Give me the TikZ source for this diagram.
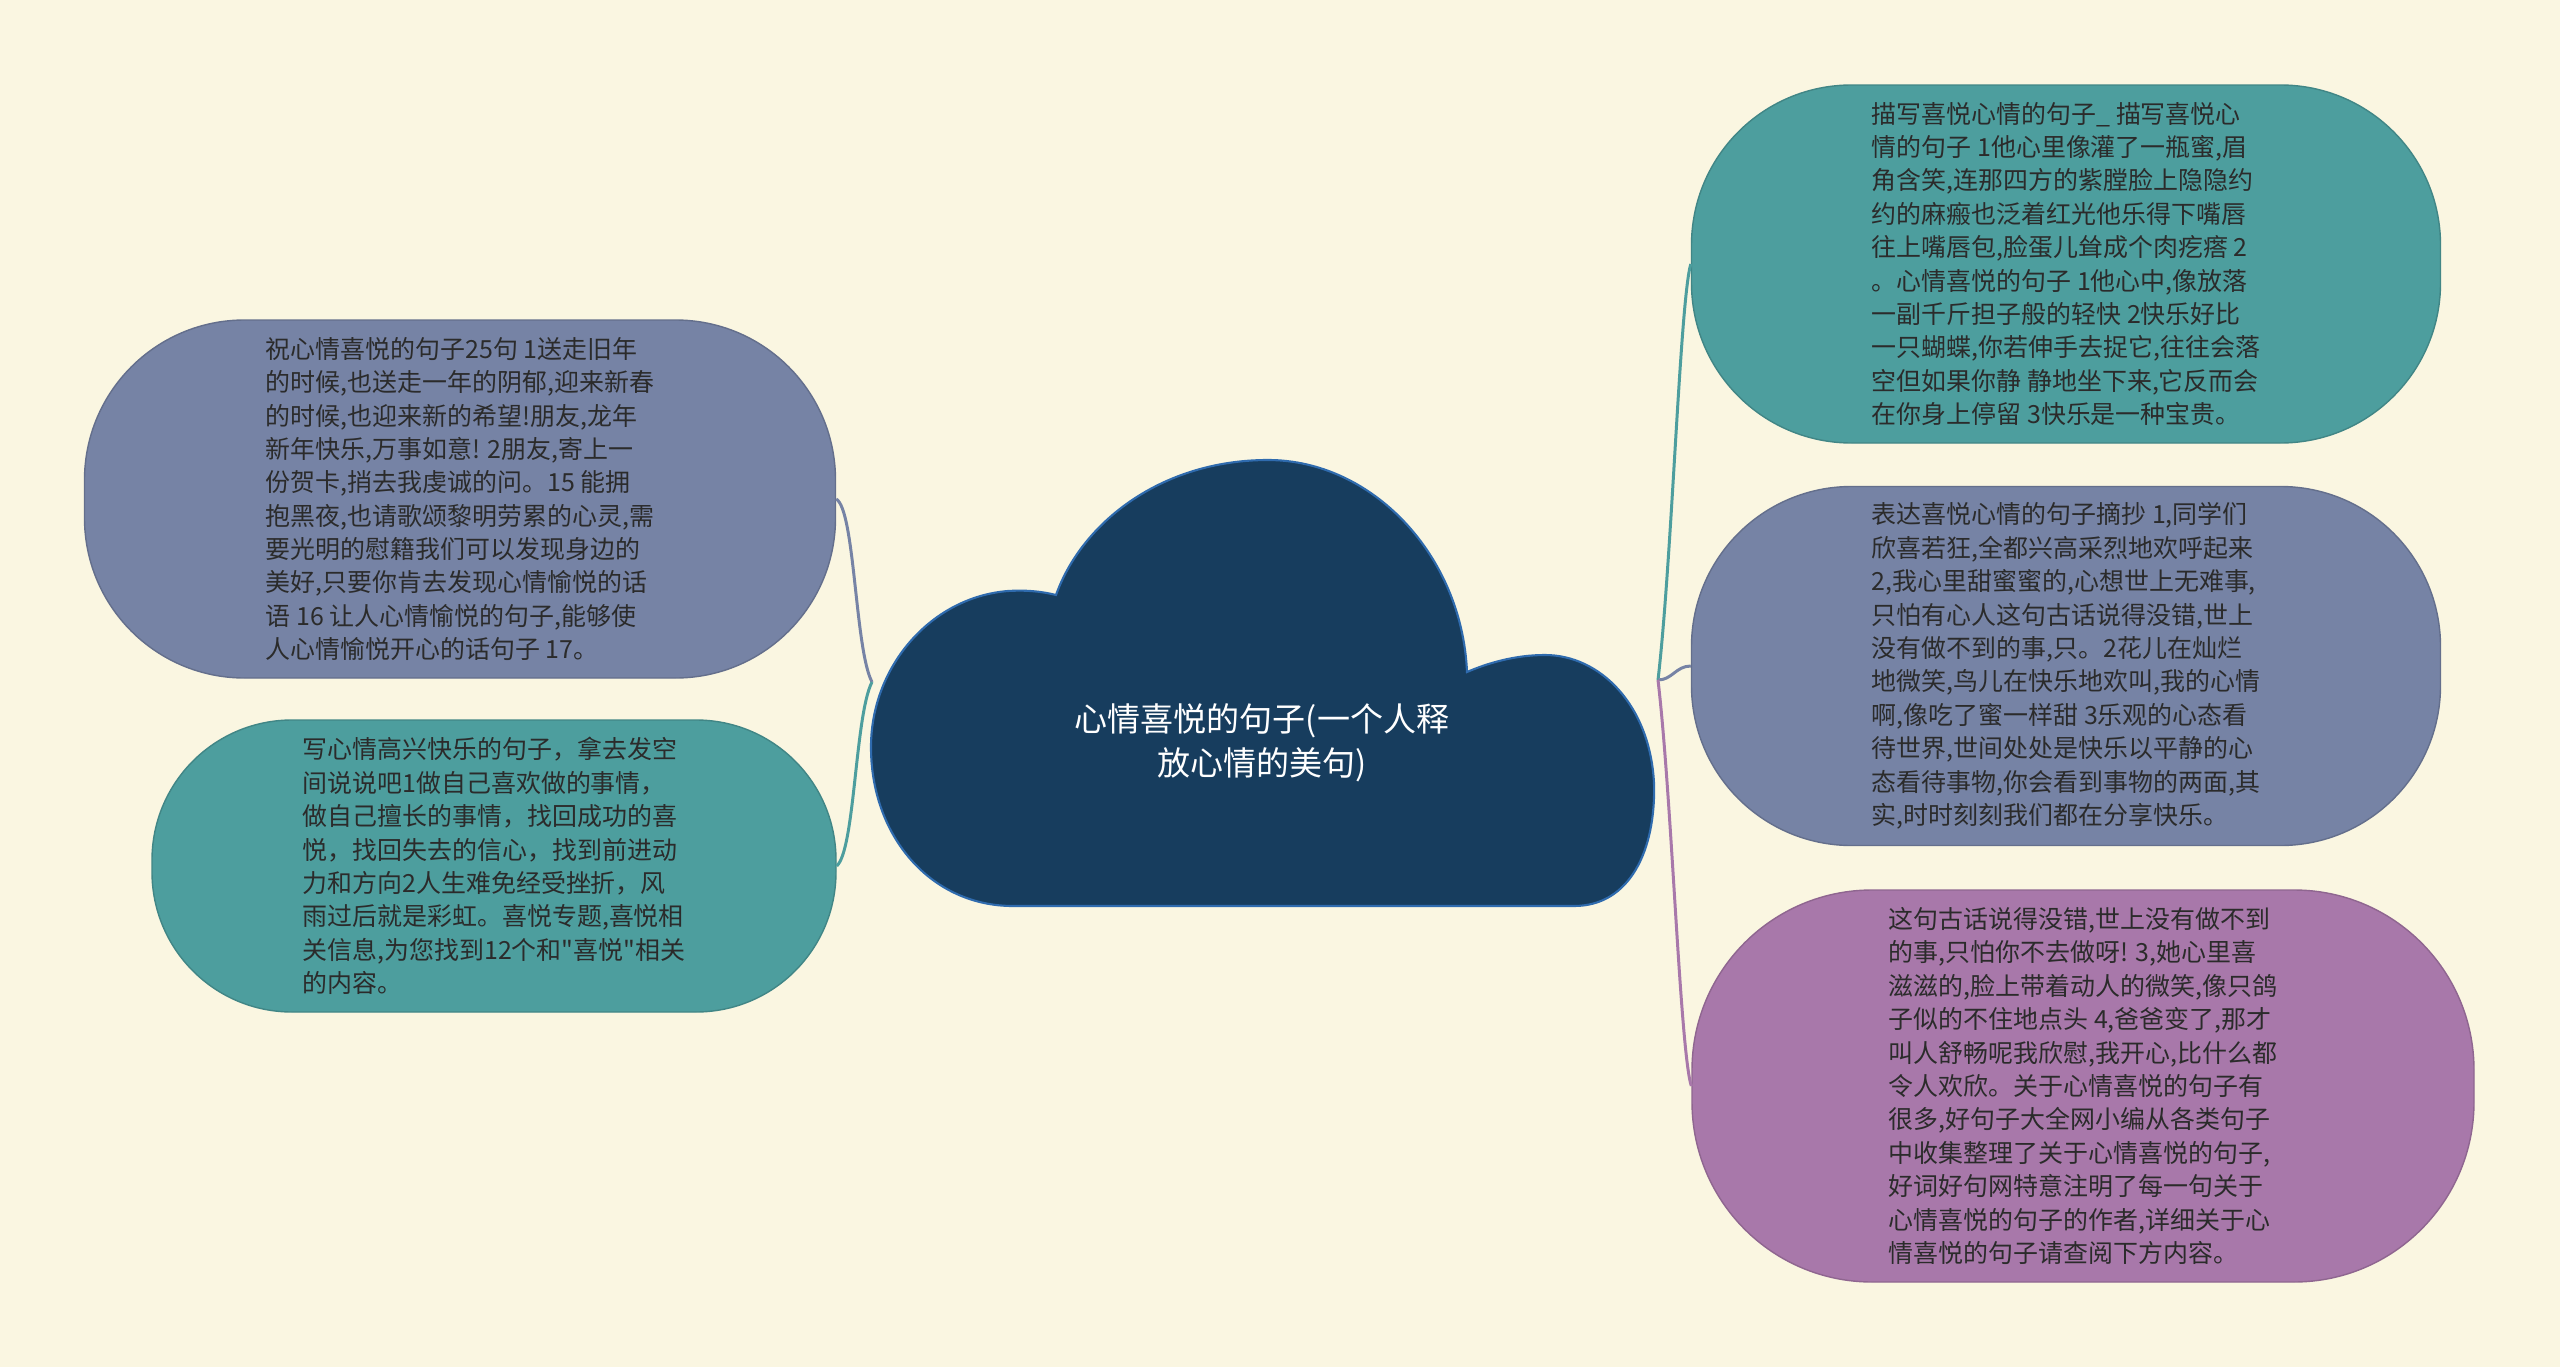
\documentclass[tikz,border=0pt]{standalone}
\usepackage{fontspec}
\newfontfamily\cjk{Noto Sans CJK SC}
\usetikzlibrary{calc}

\definecolor{bgcream}{HTML}{FAF6E1}
\definecolor{cloudnavy}{HTML}{173D5E}
\definecolor{cloudline}{HTML}{2F6BAE}
\definecolor{leafslate}{HTML}{7683A5}
\definecolor{leafteal}{HTML}{4D9E9E}
\definecolor{leafpurple}{HTML}{A878AA}
\definecolor{leaftext}{HTML}{2B2B2B}

\tikzset{
  leaf/.style={draw=#1!85!black, fill=#1, line width=0.4pt, rounded corners=16mm,
    align=left, text=leaftext, inner sep=0pt,
    font=\cjk\fontsize{7.1}{9.5}\selectfont},
  twig/.style={draw=#1, line width=0.85pt},
}

\begin{document}
\begin{tikzpicture}[x=0.1mm,y=-0.1mm]
  \fill[bgcream] (0,0) rectangle (2560,1367);
  \useasboundingbox (0,0) rectangle (2560,1367);

  % Cloud in the middle
  \filldraw[fill=cloudnavy, draw=cloudline, line width=0.6pt]
    (1013,906) -- (1574,906) .. controls (1630,906) and (1656,850) .. (1654,783)
    .. controls (1650,705) and (1600,655) .. (1545,655)
    .. controls (1515,655) and (1488,663) .. (1467,672)
    .. controls (1462,555) and (1372,460) .. (1268,460)
    .. controls (1162,460) and (1082,522) .. (1056,595)
    .. controls (1040,591) and (1025,590) .. (1008,591)
    .. controls (932,597) and (872,665) .. (871,745)
    .. controls (870,835) and (930,906) .. (1013,906) -- cycle;
  \node[text=white, align=center, font=\cjk\fontsize{9.4}{12.5}\selectfont] (root) at (1262,743)
    {心情喜悦的句子(一个人释\\放心情的美句)};

  % Left branches
  \node[leaf=leafslate, minimum width=75.1mm, minimum height=35.8mm] (l1) at (460,499)
    {祝心情喜悦的句子25句 1送走旧年\\
     的时候,也送走一年的阴郁,迎来新春\\
     的时候,也迎来新的希望!朋友,龙年\\
     新年快乐,万事如意! 2朋友,寄上一\\
     份贺卡,捎去我虔诚的问。15 能拥\\
     抱黑夜,也请歌颂黎明劳累的心灵,需\\
     要光明的慰籍我们可以发现身边的\\
     美好,只要你肯去发现心情愉悦的话\\
     语 16 让人心情愉悦的句子,能够使\\
     人心情愉悦开心的话句子 17。};
  \node[leaf=leafteal, rounded corners=14mm, minimum width=68.4mm, minimum height=29.2mm] (l2) at (494,866)
    {写心情高兴快乐的句子，拿去发空\\
     间说说吧1做自己喜欢做的事情，\\
     做自己擅长的事情，找回成功的喜\\
     悦，找回失去的信心，找到前进动\\
     力和方向2人生难免经受挫折，风\\
     雨过后就是彩虹。喜悦专题,喜悦相\\
     关信息,为您找到12个和"喜悦"相关\\
     的内容。};

  % Right branches
  \node[leaf=leafteal, minimum width=74.9mm, minimum height=35.8mm] (r1) at (2066,264)
    {描写喜悦心情的句子\_ 描写喜悦心\\
     情的句子 1他心里像灌了一瓶蜜,眉\\
     角含笑,连那四方的紫膛脸上隐隐约\\
     约的麻瘢也泛着红光他乐得下嘴唇\\
     往上嘴唇包,脸蛋儿耸成个肉疙瘩 2\\
     。心情喜悦的句子 1他心中,像放落\\
     一副千斤担子般的轻快 2快乐好比\\
     一只蝴蝶,你若伸手去捉它,往往会落\\
     空但如果你静 静地坐下来,它反而会\\
     在你身上停留 3快乐是一种宝贵。};
  \node[leaf=leafslate, minimum width=74.9mm, minimum height=35.9mm] (r2) at (2066,666)
    {表达喜悦心情的句子摘抄 1,同学们\\
     欣喜若狂,全都兴高采烈地欢呼起来\\
     2,我心里甜蜜蜜的,心想世上无难事,\\
     只怕有心人这句古话说得没错,世上\\
     没有做不到的事,只。2花儿在灿烂\\
     地微笑,鸟儿在快乐地欢叫,我的心情\\
     啊,像吃了蜜一样甜 3乐观的心态看\\
     待世界,世间处处是快乐以平静的心\\
     态看待事物,你会看到事物的两面,其\\
     实,时时刻刻我们都在分享快乐。};
  \node[leaf=leafpurple, rounded corners=18mm, minimum width=78.2mm, minimum height=39.2mm] (r3) at (2083,1086)
    {这句古话说得没错,世上没有做不到\\
     的事,只怕你不去做呀! 3,她心里喜\\
     滋滋的,脸上带着动人的微笑,像只鸽\\
     子似的不住地点头 4,爸爸变了,那才\\
     叫人舒畅呢我欣慰,我开心,比什么都\\
     令人欢欣。关于心情喜悦的句子有\\
     很多,好句子大全网小编从各类句子\\
     中收集整理了关于心情喜悦的句子,\\
     好词好句网特意注明了每一句关于\\
     心情喜悦的句子的作者,详细关于心\\
     情喜悦的句子请查阅下方内容。};

  % Connectors
  \coordinate (jl) at (872,682);
  \coordinate (jr) at (1658,680);
  \draw[twig=leafslate] (jl) .. controls (855,650) and (855,510) .. (l1.east);
  \draw[twig=leafteal] (jl) .. controls (855,715) and (855,850) .. (l2.east);
  \draw[twig=leafteal] (jr) .. controls (1672,560) and (1680,300) .. (r1.west);
  \draw[twig=leafslate] (jr) .. controls (1672,680) and (1676,666) .. (r2.west);
  \draw[twig=leafpurple] (jr) .. controls (1672,800) and (1680,1050) .. (r3.west);

\end{tikzpicture}
\end{document}
